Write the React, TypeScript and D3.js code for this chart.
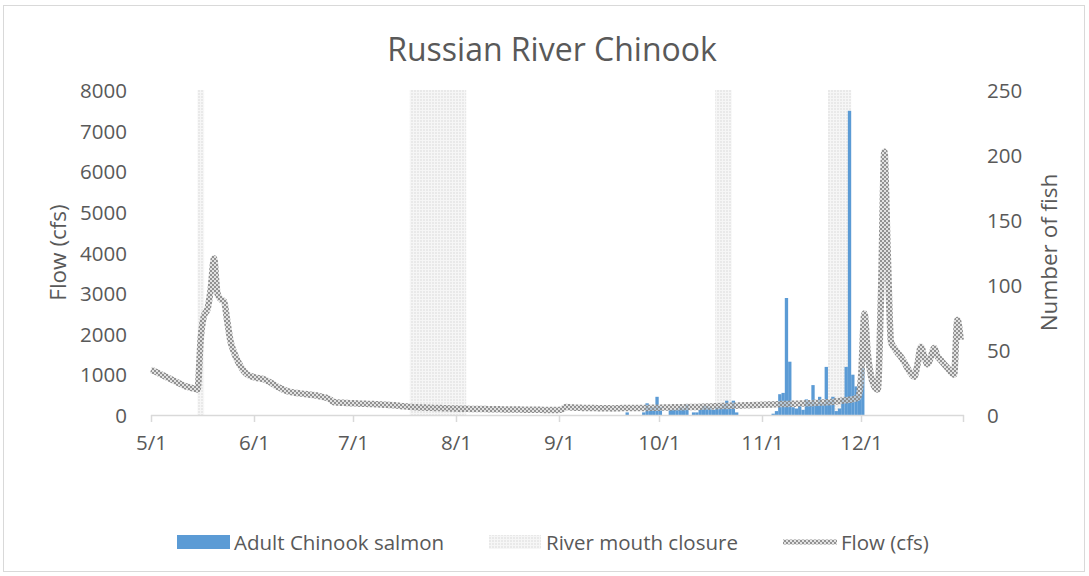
import React from "react";
import * as d3 from "d3";

// ---------- DATA ----------
const flowStart = "2016-05-01";
// Daily flow (cfs), 5/1 .. 12/31
const flowCfs: number[] = [
  // May (31)
  1110, 1080, 1040, 1000, 960, 920, 880, 840, 800, 760, 720, 690, 670, 650, 630,
  1900, 2450, 2600, 3100, 3850, 3000, 2850, 2800, 2300, 1800, 1550, 1350, 1200, 1080, 1000, 960,
  // June (30)
  930, 910, 900, 880, 840, 800, 750, 700, 660, 620, 590, 570, 550, 540, 530,
  520, 510, 500, 490, 480, 460, 440, 420, 380, 320, 310, 300, 300, 295, 290,
  // July (31)
  290, 285, 280, 280, 275, 270, 270, 265, 260, 255, 250, 245, 240, 235, 225,
  215, 210, 200, 195, 190, 185, 185, 180, 178, 175, 172, 170, 168, 165, 162, 160,
  // August (31)
  158, 155, 153, 152, 150, 150, 148, 147, 145, 145, 143, 142, 140, 140, 138,
  137, 136, 135, 135, 133, 132, 130, 130, 128, 128, 127, 126, 125, 125, 124, 123,
  // September (30)
  125, 140, 200, 190, 185, 180, 178, 175, 175, 172, 170, 170, 168, 168, 165,
  165, 163, 165, 168, 170, 170, 172, 170, 170, 170, 172, 175, 175, 178, 180,
  // October (31)
  180, 182, 185, 185, 188, 190, 190, 192, 195, 195, 198, 200, 200, 205, 208,
  210, 212, 215, 218, 220, 222, 225, 228, 230, 232, 235, 238, 240, 242, 245, 248,
  // November (30)
  250, 255, 258, 260, 262, 265, 268, 270, 272, 275, 278, 280, 282, 285, 288,
  290, 295, 300, 305, 310, 315, 320, 330, 340, 350, 360, 370, 380, 400, 420,
  // December (31)
  950, 2500, 1500, 950, 700, 630, 3000, 6480, 4000, 1800, 1650, 1530, 1430, 1300, 1150,
  1020, 940, 1250, 1680, 1450, 1250, 1420, 1650, 1450, 1350, 1250, 1160, 1060, 990, 2340, 1850,
];

const fishDates: string[] = [
  "2016-09-21", "2016-09-26", "2016-09-27", "2016-09-28", "2016-09-29", "2016-09-30", "2016-10-01",
  "2016-10-04", "2016-10-05", "2016-10-06", "2016-10-07", "2016-10-08", "2016-10-09",
  "2016-10-11", "2016-10-12", "2016-10-13", "2016-10-14", "2016-10-15", "2016-10-16", "2016-10-17",
  "2016-10-18", "2016-10-19", "2016-10-20", "2016-10-21", "2016-10-22", "2016-10-23", "2016-10-24",
  "2016-11-04", "2016-11-05", "2016-11-06", "2016-11-07", "2016-11-08", "2016-11-09", "2016-11-10",
  "2016-11-11", "2016-11-12", "2016-11-13", "2016-11-14", "2016-11-15", "2016-11-16", "2016-11-17",
  "2016-11-18", "2016-11-19", "2016-11-20", "2016-11-21", "2016-11-22", "2016-11-23", "2016-11-24",
  "2016-11-25", "2016-11-26", "2016-11-27", "2016-11-28", "2016-11-29", "2016-11-30", "2016-12-01",
];
const fishCounts: number[] = [
  2, 2, 9, 6, 6, 14, 6,
  4, 4, 4, 6, 5, 8,
  2, 2, 4, 7, 7, 6, 4,
  6, 6, 8, 11, 6, 11, 2,
  1, 3, 16, 17, 90, 41, 6,
  5, 7, 4, 12, 10, 23, 9,
  14, 9, 37, 11, 14, 3, 5,
  13, 37, 234, 31, 22, 15, 36,
];

const closureStarts: string[] = ["2016-05-15", "2016-07-18", "2016-10-18", "2016-11-21"];
const closureEnds: string[] = ["2016-05-16", "2016-08-03", "2016-10-22", "2016-11-27"];

const flowTicks: number[] = [0, 1000, 2000, 3000, 4000, 5000, 6000, 7000, 8000];
const fishTicks: number[] = [0, 50, 100, 150, 200, 250];
const monthTicks: string[] = [
  "2016-05-01", "2016-06-01", "2016-07-01", "2016-08-01",
  "2016-09-01", "2016-10-01", "2016-11-01", "2016-12-01",
];

const title = "Russian River Chinook";
const leftTitle = "Flow (cfs)";
const rightTitle = "Number of fish";
const legendLabels = ["Adult Chinook salmon", "River mouth closure", "Flow (cfs)"];

// ---------- HELPERS ----------
const parse = (s: string) => {
  const [y, m, d] = s.split("-").map(Number);
  return new Date(Date.UTC(y, m - 1, d));
};
const addDays = (dt: Date, n: number) => new Date(dt.getTime() + n * 86400000);

const W = 1089;
const H = 576;
const plotL = 151;
const plotR = 964;
const plotT = 90;
const plotB = 415;
const textColor = "#595959";
const font = "'Open Sans', 'Noto Sans', sans-serif";

export default function App() {
  const start = parse(flowStart);
  const x = d3.scaleUtc().domain([start, parse("2017-01-01")]).range([plotL, plotR]);
  const yL = d3.scaleLinear().domain([0, 8000]).range([plotB, plotT]);
  const yR = d3.scaleLinear().domain([0, 250]).range([plotB, plotT]);
  const fmt = d3.utcFormat("%-m/%-d");

  const flowPts = flowCfs.map((v, i) => ({ date: addDays(start, i), v }));
  const line = d3
    .line<{ date: Date; v: number }>()
    .x((d) => x(d.date))
    .y((d) => yL(d.v))
    .curve(d3.curveMonotoneX);

  return (
    <svg
      width={W}
      height={H}
      style={{ position: "absolute", left: 0, top: 0, background: "#fff" }}
      fontFamily={font}
    >
      <defs>
        <pattern id="bandPat" patternUnits="userSpaceOnUse" width={3} height={3}>
          <rect width={3} height={3} fill="#f6f6f6" />
          <rect width={2} height={2} fill="#e9e9e9" />
        </pattern>
        <pattern id="linePat" patternUnits="userSpaceOnUse" width={4} height={4}>
          <rect width={4} height={4} fill="#d6d6d6" fillOpacity={0.7} />
          <rect x={0} y={0} width={2} height={2} fill="#858585" fillOpacity={0.85} />
          <rect x={2} y={2} width={2} height={2} fill="#858585" fillOpacity={0.85} />
        </pattern>
      </defs>

      <rect x={3.5} y={5.5} width={1081} height={566} fill="#fff" stroke="#d9d9d9" strokeWidth={1} />

      <text x={552} y={61} textAnchor="middle" fontSize={32} fill={textColor}>
        {title}
      </text>

      {/* closure bands */}
      <g>
        {closureStarts.map((s, i) => {
          const x0 = x(parse(s));
          const x1 = x(addDays(parse(closureEnds[i]), 1));
          return (
            <rect key={s} x={x0} y={yL(8000)} width={x1 - x0} height={plotB - yL(8000)} fill="url(#bandPat)" />
          );
        })}
      </g>

      {/* fish bars */}
      <g>
        {fishDates.map((ds, i) => {
          const d0 = parse(ds);
          const x0 = x(d0);
          const x1 = x(addDays(d0, 1));
          return (
            <rect
              key={ds}
              x={x0}
              y={yR(fishCounts[i])}
              width={x1 - x0}
              height={plotB - yR(fishCounts[i])}
              fill="#5b9bd5"
            />
          );
        })}
      </g>

      {/* x axis */}
      <line x1={plotL} x2={plotR} y1={plotB + 0.5} y2={plotB + 0.5} stroke="#d9d9d9" strokeWidth={1.5} />
      {monthTicks.map((m) => {
        const xx = Math.round(x(parse(m))) + 0.5;
        return (
          <g key={m}>
            <line x1={xx} x2={xx} y1={plotB} y2={plotB + 7} stroke="#d9d9d9" strokeWidth={1.5} />
            <text x={xx} y={442} textAnchor="middle" dominantBaseline="central" fontSize={20.5} fill={textColor}>
              {fmt(parse(m))}
            </text>
          </g>
        );
      })}
      <line x1={plotR - 0.5} x2={plotR - 0.5} y1={plotB} y2={plotB + 7} stroke="#d9d9d9" strokeWidth={1.5} />

      {/* flow line */}
      <path d={line(flowPts) || ""} fill="none" stroke="url(#linePat)" strokeWidth={6.5} strokeLinejoin="round" />

      {/* left axis labels */}
      {flowTicks.map((t) => (
        <text key={t} x={127} y={yL(t)} textAnchor="end" dominantBaseline="central" fontSize={20.5} fill={textColor}>
          {t}
        </text>
      ))}
      {/* right axis labels */}
      {fishTicks.map((t) => (
        <text key={t} x={987} y={yR(t)} textAnchor="start" dominantBaseline="central" fontSize={20.5} fill={textColor}>
          {t}
        </text>
      ))}

      <text
        transform={`translate(57,${(plotT + plotB) / 2}) rotate(-90)`}
        textAnchor="middle"
        dominantBaseline="central"
        fontSize={22.5}
        fill={textColor}
      >
        {leftTitle}
      </text>
      <text
        transform={`translate(1048,${(plotT + plotB) / 2}) rotate(-90)`}
        textAnchor="middle"
        dominantBaseline="central"
        fontSize={22.5}
        fill={textColor}
      >
        {rightTitle}
      </text>

      {/* legend */}
      <g>
        <rect x={177} y={535} width={53} height={14} fill="#5b9bd5" />
        <text x={234} y={542} dominantBaseline="central" fontSize={20.5} fill={textColor}>
          {legendLabels[0]}
        </text>
        <rect x={489} y={535} width={52} height={14} fill="url(#bandPat)" />
        <text x={546} y={542} dominantBaseline="central" fontSize={20.5} fill={textColor}>
          {legendLabels[1]}
        </text>
        <line x1={783} x2={837} y1={542} y2={542} stroke="url(#linePat)" strokeWidth={5} />
        <text x={841} y={542} dominantBaseline="central" fontSize={20.5} fill={textColor}>
          {legendLabels[2]}
        </text>
      </g>
    </svg>
  );
}
